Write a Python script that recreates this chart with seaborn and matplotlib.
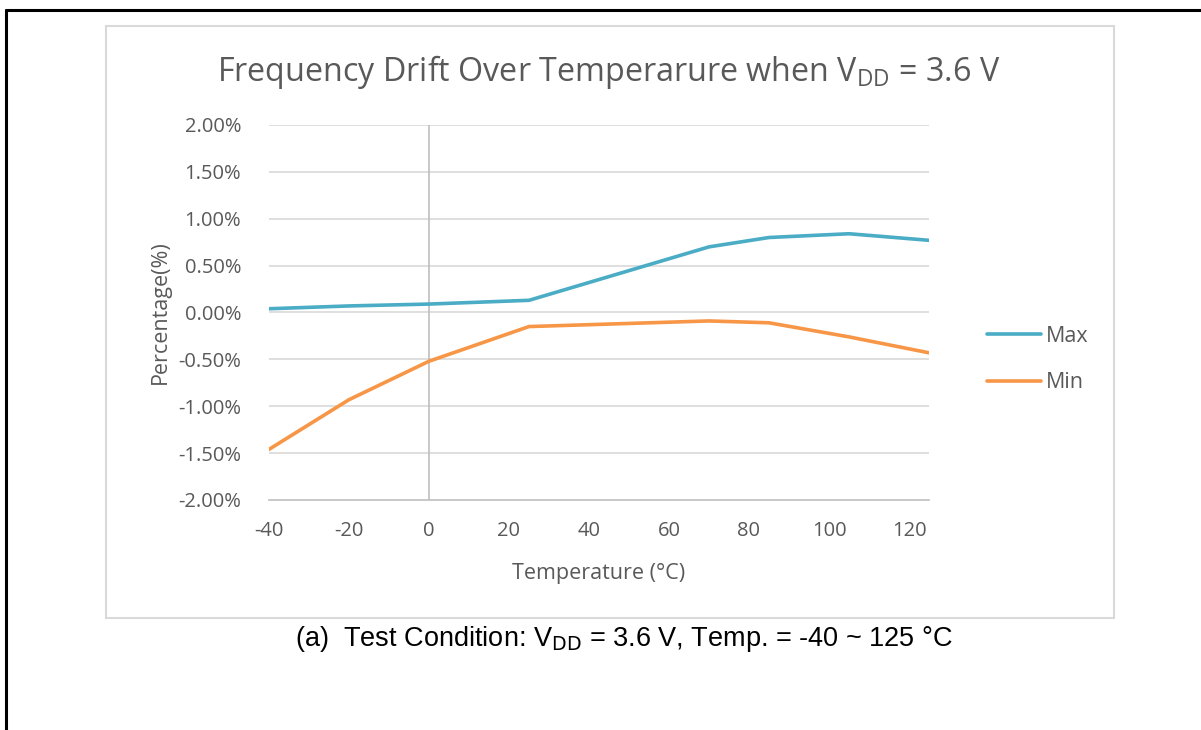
import pandas as pd
import seaborn as sns
import matplotlib.pyplot as plt
from matplotlib.patches import Rectangle
from matplotlib.lines import Line2D
from matplotlib.ticker import PercentFormatter

temps = [-40, -20, 0, 25, 70, 85, 105, 125]
max_pct = [0.04, 0.07, 0.09, 0.13, 0.70, 0.80, 0.84, 0.77]
min_pct = [-1.46, -0.93, -0.52, -0.15, -0.09, -0.11, -0.26, -0.43]
series = ['Max', 'Min']
x_ticks = [-40, -20, 0, 20, 40, 60, 80, 100, 120]
y_ticks = [-2.0, -1.5, -1.0, -0.5, 0.0, 0.5, 1.0, 1.5, 2.0]

sns.set_style('white')
plt.rcParams['font.family'] = ['Open Sans', 'DejaVu Sans']
plt.rcParams['axes.unicode_minus'] = False
plt.rcParams['mathtext.fontset'] = 'custom'
plt.rcParams['mathtext.rm'] = 'Open Sans'

text_col = '#595959'
grid_col = '#D9D9D9'
axis_col = '#BFBFBF'

df = pd.DataFrame({
    'Temperature': temps * 2,
    'Percentage': max_pct + min_pct,
    'Series': [series[0]] * len(temps) + [series[1]] * len(temps),
})

fig = plt.figure(figsize=(12.01, 7.30), dpi=100)
W, H = 1201, 730

# outer page frame (top and left lines) and chart-area box
fig.add_artist(Line2D([6 / W, 1.0], [1 - 10 / H, 1 - 10 / H], color='black', lw=2.2, transform=fig.transFigure))
fig.add_artist(Line2D([6 / W, 6 / W], [0, 1 - 10 / H], color='black', lw=2.2, transform=fig.transFigure))
fig.add_artist(Rectangle((106 / W, 1 - 618 / H), 1008 / W, 592 / H, transform=fig.transFigure,
                         fill=False, edgecolor='#D9D9D9', lw=1.5))

ax = fig.add_axes([269 / W, 1 - 500 / H, 660 / W, 375 / H])
sns.lineplot(data=df, x='Temperature', y='Percentage', hue='Series',
             palette={'Max': '#4BACC6', 'Min': '#F79646'}, linewidth=2.6, ax=ax,
             legend=False, zorder=3)

ax.set_xlim(-40, 125)
ax.set_ylim(-2.0, 2.0)
ax.set_xticks(x_ticks)
ax.set_yticks(y_ticks)
ax.yaxis.set_major_formatter(PercentFormatter(decimals=2))
for y in y_ticks[1:]:
    ax.axhline(y, color=grid_col, lw=1.2, zorder=1)
ax.axvline(0, color=axis_col, lw=1.2, zorder=2)

for s in ['top', 'right', 'left']:
    ax.spines[s].set_visible(False)
ax.spines['bottom'].set_color(axis_col)
ax.spines['bottom'].set_linewidth(1.2)
ax.tick_params(axis='x', colors=axis_col, length=4, width=1.2, pad=11, labelsize=14.5, labelcolor=text_col)
ax.tick_params(axis='y', length=0, pad=20, labelsize=14.5, labelcolor=text_col)

ax.set_xlabel('Temperature (°C)', fontsize=15.5, color=text_col)
ax.set_ylabel('Percentage(%)', fontsize=15.5, color=text_col)
ax.xaxis.set_label_coords(0.5, -0.168)
ax.yaxis.set_label_coords(-0.148, 0.5)

fig.text(609 / W, 1 - 72 / H, r'Frequency Drift Over Temperarure when V$_{\mathrm{DD}}$ = 3.6 V',
         ha='center', va='center', fontsize=23.2, color=text_col)

handles = [Line2D([], [], color='#4BACC6', lw=2.6), Line2D([], [], color='#F79646', lw=2.6)]
fig.legend(handles, series, loc='center left', bbox_to_anchor=(968 / W, 1 - 359.5 / H),
           frameon=False, fontsize=15.5, handlelength=2.5, handletextpad=0.2,
           labelspacing=1.2, labelcolor=text_col)

fig.text(624 / W, 1 - 639 / H, r'(a)  Test Condition: V$_{\mathrm{DD}}$ = 3.6 V, Temp. = -40 ~ 125 °C',
         ha='center', va='center', fontsize=19.5, color='black', family=['Liberation Sans'],
         math_fontfamily='dejavusans')

fig.savefig('out.png', dpi=100)
